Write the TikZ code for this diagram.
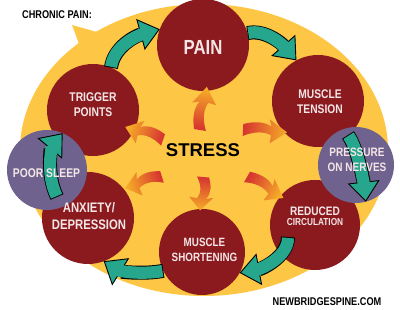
\documentclass[tikz,border=0pt]{standalone}
\usepackage{fontspec}
\setmainfont{Liberation Sans}
\newfontfamily\condfont[FakeStretch=0.82]{Liberation Sans}
\usepackage{xcolor}
\usetikzlibrary{arrows.meta,positioning}
\definecolor{yelc}{RGB}{253,199,69}
\definecolor{dkred}{RGB}{139,26,31}
\definecolor{purp}{RGB}{111,98,142}
\definecolor{tealc}{RGB}{38,166,140}
\definecolor{arrred}{RGB}{214,52,48}
\definecolor{arrorng}{RGB}{246,172,40}
\definecolor{labtxt}{RGB}{244,230,230}
\newcommand{\fsz}[2]{\fontsize{#1}{#2}\selectfont}
\tikzset{
  pics/stressarr/.style={code={
    \shade[left color=arrred, right color=arrorng, shading angle=#1]
      (0,-6) .. controls (10,-1) and (20,0) .. (27,-4) -- (26,-12) -- (42,0)
      -- (25,12) -- (27,5) .. controls (19,10) and (9,9) .. (0,6) -- cycle;
  }},
}

\begin{document}
\begin{tikzpicture}[x=1pt, y=1pt,
  redc/.style={circle, fill=dkred, inner sep=0pt, outer sep=0pt, minimum size=#1},
  purc/.style={circle, fill=purp, inner sep=0pt, outer sep=0pt, minimum size=#1},
  lab/.style 2 args={text=labtxt, align=center, inner sep=0pt,
    font=\condfont\bfseries\fsz{#1}{#2}},
  head/.style={inner sep=0pt, font=\condfont\bfseries\fsz{11.2}{13}},
  tealback/.style={line width=14pt, draw=black,
    -{Triangle[length=20pt, width=32pt, fill=tealc, line width=0.9pt]}},
  tealfront/.style={line width=12.2pt, draw=tealc, shorten >=17pt, shorten <=0.9pt},
]
\fill[white] (0,0) rectangle (400,310);
\useasboundingbox (0,0) rectangle (400,310);
% background bubble
\fill[yelc] (204,160) ellipse [x radius=184, y radius=146];
\fill[yelc] (72,285) -- (82,258) -- (104,276) -- cycle;
\node[head] (title) at (57,295) {CHRONIC PAIN:};
\node[head] (site) at (327,8) {NEWBRIDGESPINE.COM};
% circles
\node[redc=92pt] (pain) at (203,265) {};
\node[redc=92pt] (tens) at (318,209) {};
\node[redc=92pt] (trig) at (93,200) {};
\node[redc=92pt] (anx) at (88,92) {};
\node[redc=86pt] (shrt) at (202,58) {};
\node[redc=90pt] (redu) at (315,85) {};
\node[purc=80pt] (sleep) at (47,140) {};
\node[purc=76pt] (pres) at (356,145) {};
% stress in the middle
\node[inner sep=0pt, font=\bfseries\fsz{18.5}{20}] (stress) at (203,160) {STRESS};
\foreach \dx/\dy/\ang/\sy/\sx in {-3/20/81/1/1.04, 40/20/-3/1/1.05, 44/-27/-30/1/1,
    0/-27/-95/1/0.8, -41/-27/197/-1/0.92, -40/10/161/-1/0.95} {
  \pgfmathsetmacro\sa{90+\ang}
  \pic[rotate=\ang, yscale=\sy, xscale=\sx] at ([shift={(\dx,\dy)}]stress.center) {stressarr=\sa};
}
% cycle arrows
\coordinate (rs) at ([shift={(-27,-12)}]redu.center);
\coordinate (ps) at ([shift={(-8,30)}]pres.center);
\coordinate (ss) at ([shift={(10,-27)}]sleep.center);
\foreach \s/\c/\d/\e in {trig.67/{3,22}/{-22,-6}/pain.160,
    pain.15/{18,4}/{-14,16}/tens.118,
    ps/{10,-14}/{-2,18}/pres.-75,
    rs/{0,-20}/{22,4}/shrt.-29,
    shrt.206/{-22,-4}/{16,-10}/anx.-70,
    ss/{-12,25}/{-10,-12}/sleep.67} {
  \draw[tealback] (\s) .. controls +(\c) and +(\d) .. (\e);
  \draw[tealfront] (\s) .. controls +(\c) and +(\d) .. (\e);
}
% labels
\node[lab={20.4}{22}] (painl) at (203,263) {PAIN};
\node[lab={12.6}{15}] (trigl) at (93,205) {TRIGGER\\POINTS};
\node[lab={12.5}{15}] (tensl) at (320,208) {MUSCLE\\TENSION};
\node[lab={12.6}{15}] (sleepl) at (46.5,137) {POOR SLEEP};
\node[lab={13.8}{17}] (anxl) at (89,93.5) {ANXIETY/\\DEPRESSION};
\node[lab={12}{15}] (shrtl) at (204.5,60) {MUSCLE\\SHORTENING};
\node[lab={12.3}{14}] (redul) at (315,99) {REDUCED};
\node[lab={10.1}{12}] (circl) at (315,88) {CIRCULATION};
\node[lab={12.2}{15}] (presl) at (357,150) {PRESSURE\\ON NERVES};
\end{tikzpicture}
\end{document}
